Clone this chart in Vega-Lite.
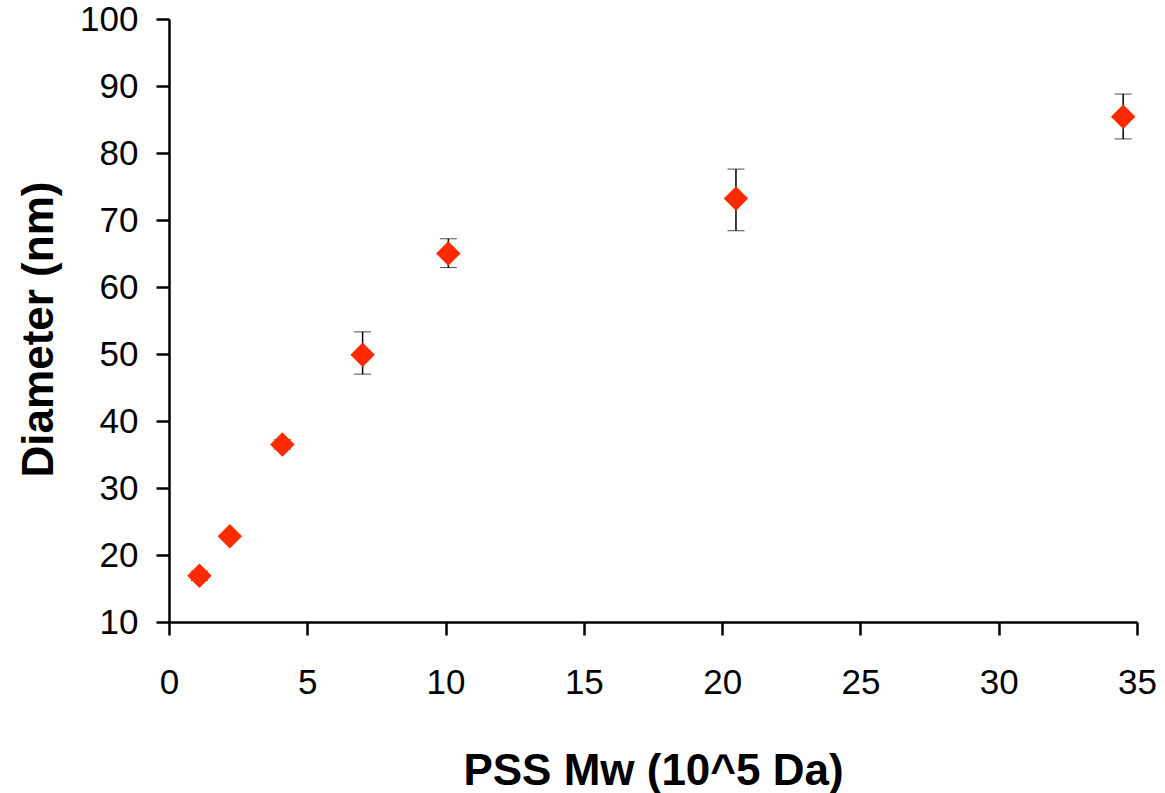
{
  "$schema": "https://vega.github.io/schema/vega-lite/v6.json",
  "autosize": "none",
  "width": 968,
  "height": 603,
  "padding": {"left": 169, "top": 19, "right": 28, "bottom": 171},
  "background": "white",
  "config": {
    "view": {"stroke": null},
    "font": "Liberation Sans",
    "axis": {
      "grid": false,
      "domainColor": "black",
      "domainWidth": 2.5,
      "tickColor": "black",
      "tickWidth": 2.5,
      "tickSize": 13,
      "labelFlush": false,
      "labelFont": "Liberation Sans",
      "labelFontSize": 35,
      "labelColor": "black",
      "titleFont": "Liberation Sans",
      "titleFontSize": 44,
      "titleFontWeight": "bold",
      "titleColor": "black",
      "titleBaseline": "alphabetic"
    }
  },
  "data": {
    "values": [
      {"mw": 1.1, "d": 16.9, "lo": 16.2, "hi": 17.6},
      {"mw": 2.2, "d": 22.8, "lo": 22.4, "hi": 23.2},
      {"mw": 4.1, "d": 36.5, "lo": 35.8, "hi": 37.2},
      {"mw": 7.0, "d": 49.9, "lo": 47.0, "hi": 53.3},
      {"mw": 10.1, "d": 65.0, "lo": 62.9, "hi": 67.2},
      {"mw": 20.5, "d": 73.2, "lo": 68.4, "hi": 77.6},
      {"mw": 34.5, "d": 85.4, "lo": 82.1, "hi": 88.8}
    ]
  },
  "layer": [
    {
      "mark": {"type": "errorbar", "ticks": {"size": 17, "color": "black", "strokeWidth": 1.5}, "rule": {"color": "black", "strokeWidth": 1.5}},
      "encoding": {
        "x": {"field": "mw", "type": "quantitative", "title": "PSS Mw (10^5 Da)"},
        "y": {"field": "lo", "type": "quantitative", "title": "Diameter (nm)"},
        "y2": {"field": "hi"}
      }
    },
    {
      "mark": {"type": "point", "shape": "diamond", "filled": true, "size": 600, "color": "#FF2A00", "opacity": 1},
      "encoding": {
        "x": {
          "field": "mw", "type": "quantitative",
          "scale": {"domain": [0, 35], "nice": false, "zero": false},
          "axis": {"values": [0, 5, 10, 15, 20, 25, 30, 35], "title": "PSS Mw (10^5 Da)", "labelPadding": 30, "titleY": 162, "titleX": 484}
        },
        "y": {
          "field": "d", "type": "quantitative",
          "scale": {"domain": [10, 100], "nice": false, "zero": false},
          "axis": {"values": [10, 20, 30, 40, 50, 60, 70, 80, 90, 100], "title": "Diameter (nm)", "labelPadding": 18, "titleX": -117, "titleY": 310}
        }
      }
    }
  ]
}
